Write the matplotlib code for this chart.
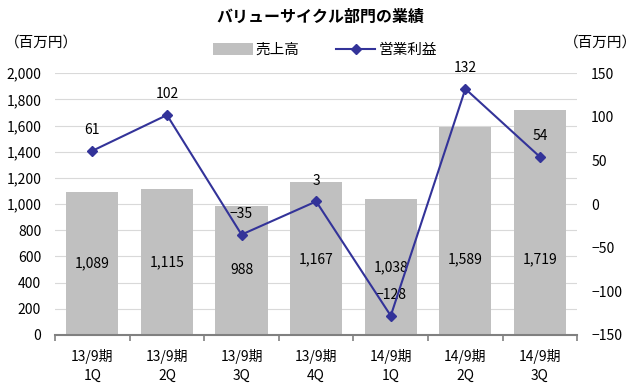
import numpy as np
import matplotlib.pyplot as plt

plt.rcParams['font.family'] = ['Noto Sans CJK JP', 'DejaVu Sans']

periods = ["13/9期\n1Q", "13/9期\n2Q", "13/9期\n3Q", "13/9期\n4Q",
           "14/9期\n1Q", "14/9期\n2Q", "14/9期\n3Q"]
sales = [1089, 1115, 988, 1167, 1038, 1589, 1719]
profit = [61, 102, -35, 3, -128, 132, 54]

bar_color = "#C0C0C0"
line_color = "#333399"

fig = plt.figure(figsize=(6.4, 3.85), dpi=100)
ax = fig.add_axes([0.086, 0.13, 0.816, 0.68])
ax2 = ax.twinx()

x = np.arange(len(periods))
ax.bar(x, sales, width=0.7, color=bar_color, zorder=2, label="売上高")
for xi, v in zip(x, sales):
    ax.text(xi, min(v / 2, 575), f"{v:,}", ha="center", va="center",
            fontsize=10, zorder=3)

ax.set_ylim(0, 2000)
ax.set_yticks(np.arange(0, 2001, 200))
ax.set_yticklabels([f"{v:,}" for v in range(0, 2001, 200)])
ax.set_xlim(-0.5, len(periods) - 0.5)
ax.set_xticks(x)
ax.set_xticklabels(periods, fontsize=10, linespacing=1.5)
ax.grid(axis="y", color="#D9D9D9", linewidth=0.8, zorder=0)
ax.set_axisbelow(True)

ax2.plot(x, profit, color=line_color, marker="D", markersize=5,
         linewidth=1.5, zorder=4, label="営業利益")
for xi, v in zip(x, profit):
    ax2.annotate(f"{v}".replace("-", "\u2212"), (xi, v), xytext=(0, 10),
                 textcoords="offset points", ha="center", va="bottom",
                 fontsize=10, annotation_clip=False)
ax2.set_ylim(-150, 150)
ax2.set_yticks(np.arange(-150, 151, 50))

for a in (ax, ax2):
    for s in ("top", "left", "right"):
        a.spines[s].set_visible(False)
    a.tick_params(axis="y", length=0, labelsize=10, pad=10)
ax2.spines["bottom"].set_visible(False)
ax.spines["bottom"].set_color("#808080")
ax.spines["bottom"].set_linewidth(1.5)
ax.tick_params(axis="x", length=0, pad=10)
# category separator ticks on the x axis
ax.set_xticks(np.arange(-0.5, len(periods), 1.0), minor=True)
ax.tick_params(axis="x", which="minor", length=4, color="#808080", width=1.2)

fig.text(0.5, 0.955, "バリューサイクル部門の業績", ha="center", va="center",
         fontsize=11.5, fontweight="bold")
fig.text(0.008, 0.89, "（百万円）", ha="left", va="center", fontsize=10.5)
fig.text(0.995, 0.89, "（百万円）", ha="right", va="center", fontsize=10.5)

h1, l1 = ax.get_legend_handles_labels()
h2, l2 = ax2.get_legend_handles_labels()
fig.legend(h1 + h2, l1 + l2, loc="center", bbox_to_anchor=(0.508, 0.87),
           ncol=2, frameon=False, fontsize=10.5, handlelength=2.7,
           handletextpad=0.2, columnspacing=2.5, handleheight=0.8)

fig.savefig("out.png", dpi=100)
